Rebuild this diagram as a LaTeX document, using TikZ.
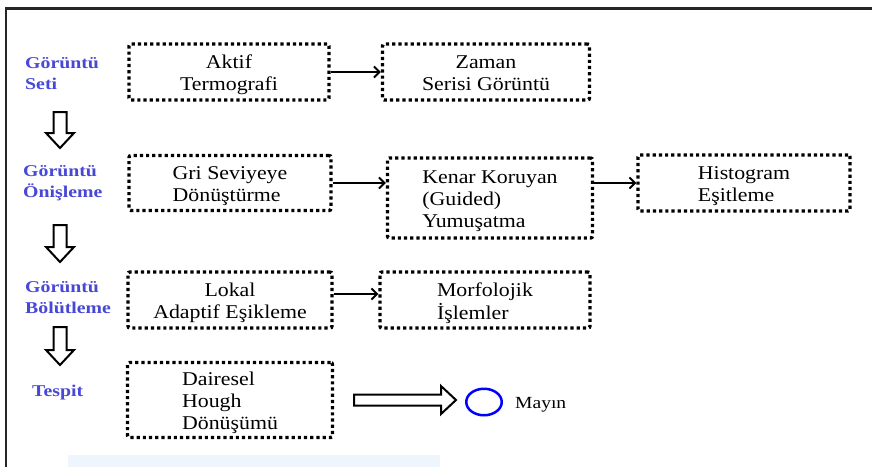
\documentclass[tikz,border=0pt]{standalone}
\usepackage{fontspec}
\usepackage{graphicx}
\setmainfont{Liberation Serif}
\usetikzlibrary{shapes.geometric,arrows.meta,calc}
\definecolor{lblblue}{RGB}{72,72,214}
\definecolor{pale}{RGB}{238,245,252}
\newcommand{\lbltext}[1]{\scalebox{1.2}[1]{\begin{tabular}{@{}l@{}}#1\end{tabular}}}
\newcommand{\bxl}[1]{\raisebox{-3.5pt}[\height][\depth]{\scalebox{1.12}[1]{\begin{tabular}{@{}l@{}}#1\end{tabular}}}}
\newcommand{\bxc}[1]{\raisebox{-3.5pt}[\height][\depth]{\scalebox{1.12}[1]{\begin{tabular}{@{}c@{}}#1\end{tabular}}}}
\begin{document}
\begin{tikzpicture}[x=1pt,y=-1pt,
  box/.style={draw=black, line width=3.4pt, dash pattern=on 3.2pt off 3pt,
    rounded corners=2pt, inner sep=0pt, font=\rmfamily\fontsize{19.5}{22}\selectfont},
  lbl/.style={font=\rmfamily\bfseries\fontsize{16.5}{21}\selectfont, text=lblblue, inner sep=0pt},
  flow/.style={line width=1.9pt, -{Straight Barb[length=5.5pt,width=11pt]}},
  hollowarrow/.style={draw=black, line width=2pt, fill=white, line join=miter}]
\useasboundingbox (0,0) rectangle (872,467);
\fill[white] (0,0) rectangle (872,467);
% frame
\draw[line width=2.5pt, black!85] (6,467) -- (6,8.5) -- (872,8.5);
\fill[pale] (68,455) rectangle (440,467);

% left labels
\node[lbl, anchor=north west] (l1) at (25,54) {\lbltext{Görüntü\\Seti}};
\node[lbl, anchor=north west] (l2) at (23,162) {\lbltext{Görüntü\\Önişleme}};
\node[lbl, anchor=north west] (l3) at (25,278) {\lbltext{Görüntü\\Bölütleme}};
\node[lbl, anchor=north west] (l4) at (32,382) {\lbltext{Tespit}};

% hollow down arrows
\foreach \ya/\yb in {112/148, 225/262, 327/365}{
  \draw[hollowarrow] (53.5,\ya) -- (66.5,\ya) -- (66.5,\yb-15) -- (74,\yb-15)
     -- (60,\yb) -- (46,\yb-15) -- (53.5,\yb-15) -- cycle;
}

% boxes
\node[box, minimum width=200pt, minimum height=56pt] (a1) at (229,72) {\bxc{Aktif\\Termografi}};
\node[box, minimum width=207pt, minimum height=56pt] (a2) at (486,72) {\bxc{Zaman\\Serisi Görüntü}};
\node[box, minimum width=202pt, minimum height=55pt] (b1) at (230,183) {\bxl{Gri Seviyeye\\Dönüştürme}};
\node[box, minimum width=205pt, minimum height=80pt] (b2) at (490,198) {\bxl{Kenar Koruyan\\(Guided)\\Yumuşatma}};
\node[box, minimum width=212pt, minimum height=56pt] (b3) at (744,183) {\bxl{Histogram\\Eşitleme}};
\node[box, minimum width=204pt, minimum height=56pt] (c1) at (230,300) {\bxc{Lokal\\Adaptif Eşikleme}};
\node[box, minimum width=210pt, minimum height=56pt] (c2) at (485,300) {\bxl{Morfolojik\\İşlemler}};
\node[box, minimum width=205pt, minimum height=75pt] (d1) at (230,400) {\bxl{Dairesel\\Hough\\Dönüşümü}};

% connectors
\draw[flow] (a1.east) -- (a2.west);
\draw[flow] (b1.east) -- (b1.east -| b2.west);
\draw[flow] (b2.east |- b3.west) -- (b3.west);
\draw[flow] ([yshift=6pt]c1.east) -- ([yshift=6pt]c1.east -| c2.west);

% detection arrow and result
\draw[hollowarrow] (354,394.5) -- (441,394.5) -- (441,386) -- (456,400)
   -- (441,414) -- (441,405.5) -- (354,405.5) -- cycle;
\node[draw=blue, line width=2.5pt, ellipse, minimum width=35.5pt, minimum height=26.5pt, inner sep=0pt] (res) at (484,402) {};
\node[anchor=base west, inner sep=0pt, font=\rmfamily\fontsize{17}{20}\selectfont] (may) at (515,408) {\scalebox{1.15}[1]{Mayın}};
\end{tikzpicture}
\end{document}
